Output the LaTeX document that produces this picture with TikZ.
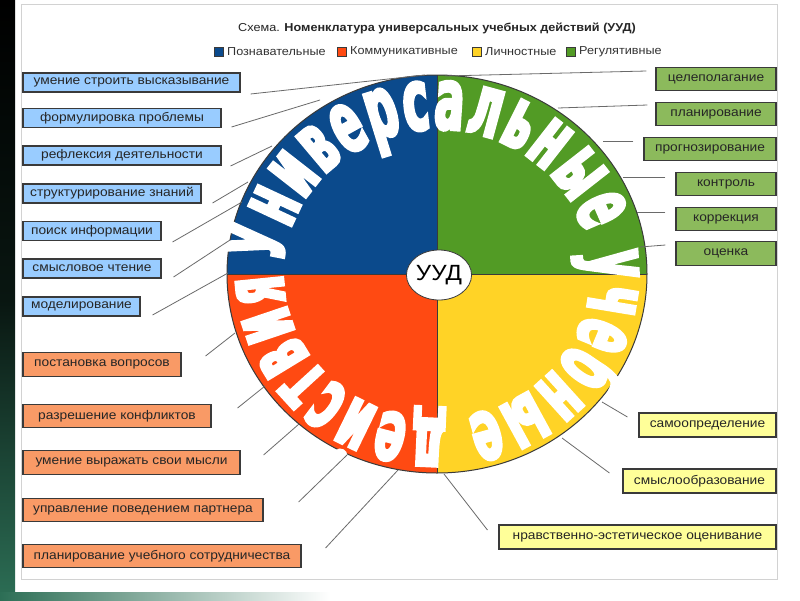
\documentclass[tikz,border=0pt]{standalone}
\usepackage{fontspec}
\setmainfont{Liberation Sans}[FakeStretch=1.1]
\newfontfamily\arcfont{DejaVu Sans}[FakeStretch=0.5, FakeBold=3.5]
\usetikzlibrary{decorations.text,shapes.geometric}
\definecolor{qblue}{HTML}{0B4A8C}
\definecolor{qgreen}{HTML}{529B25}
\definecolor{qred}{HTML}{FF4A12}
\definecolor{qyellow}{HTML}{FFD326}
\definecolor{bblue}{HTML}{99CCFF}
\definecolor{bgreen}{HTML}{8CBA5C}
\definecolor{borange}{HTML}{F99A66}
\definecolor{byellow}{HTML}{FFFF99}
\definecolor{edge}{HTML}{3A3A3A}
\definecolor{linec}{HTML}{6A6A6A}
\definecolor{darkgreenbg}{HTML}{2C6E55}
\tikzset{
  box/.style={draw=edge, line width=1.1pt, inner sep=0pt, text=black!85,
    font=\fontsize{12.5}{13}\selectfont},
  bluebox/.style={box, fill=bblue, minimum height=19pt},
  orangebox/.style={box, fill=borange, minimum height=23.5pt},
  greenbox/.style={box, fill=bgreen, minimum height=23.5pt},
  yellowbox/.style={box, fill=byellow, minimum height=24pt},
  conn/.style={draw=linec, line width=0.8pt},
  legsq/.style={draw=edge, line width=0.6pt, minimum size=9pt, inner sep=0pt},
  legtxt/.style={anchor=west, inner sep=0pt, font=\fontsize{11.5}{12}\selectfont, text=black!80}
}
\begin{document}
\begin{tikzpicture}[x=1pt,y=1pt]
\useasboundingbox (0,0) rectangle (800,-600);
% slide background
\fill[white] (0,0) rectangle (800,-600);
\shade[top color=black, bottom color=darkgreenbg, middle color=black!80!darkgreenbg] (0,0) rectangle (15,-600);
\shade[left color=darkgreenbg, right color=white] (0,-592) rectangle (330,-600);
\draw[gray!35, line width=0.8pt] (21,-4) rectangle (777,-579);

% title and legend
\node[font=\fontsize{11.5}{12}\selectfont, text=black!85] (title) at (437,-28)
  {Схема. \textbf{Номенклатура универсальных учебных действий (УУД)}};
\node[legsq, fill=qblue] (lq1) at (219,-52) {};
\node[legtxt] (lt1) at (227,-52) {Познавательные};
\node[legsq, fill=qred] (lq2) at (342,-52) {};
\node[legtxt] (lt2) at (350,-52) {Коммуникативные};
\node[legsq, fill=qyellow] (lq3) at (477,-52) {};
\node[legtxt] (lt3) at (485,-52) {Личностные};
\node[legsq, fill=qgreen] (lq4) at (571,-52) {};
\node[legtxt] (lt4) at (579,-52) {Регулятивные};

% circle quadrants
\coordinate (C) at (437,-274);
\fill[qblue] (C) -- ++(180:210 and 199) arc[start angle=180, end angle=90, x radius=210, y radius=199] -- cycle;
\fill[qgreen] (C) -- ++(90:210 and 199) arc[start angle=90, end angle=0, x radius=210, y radius=199] -- cycle;
\fill[qyellow] (C) -- ++(0:210 and 199) arc[start angle=0, end angle=-90, x radius=210, y radius=199] -- cycle;
\fill[qred] (C) -- ++(-90:210 and 199) arc[start angle=-90, end angle=-180, x radius=210, y radius=199] -- cycle;
\draw[edge, line width=0.5pt] (C) ++(0,199) -- ++(0,-398);
\draw[edge, line width=0.5pt] (C) ++(-210,0) -- ++(420,0);
\draw[edge, line width=1pt] (C) ellipse[x radius=210, y radius=199];

% curved title
\path (C) ++(176:154 and 145) coordinate (ts);
\path[decorate, decoration={text along path, text align=fit to path,
  text={|\arcfont\bfseries\fontsize{86}{86}\selectfont\color{white}|Универсальные учебные действия}}]
  (ts) arc[start angle=176, end angle=-180, x radius=154, y radius=145];

% centre
\node[draw=edge, line width=0.8pt, fill=white, ellipse, minimum width=58pt, minimum height=50pt,
  inner sep=0pt, font=\fontsize{22}{22}\selectfont] (uud) at (439,-275) {УУД};

% left (blue) boxes
\node[bluebox, minimum width=217pt] (b1) at (131.5,-82.5) {умение строить высказывание};
\node[bluebox, minimum width=198pt] (b2) at (122,-118) {формулировка проблемы};
\node[bluebox, minimum width=198pt] (b3) at (122,-155.5) {рефлексия деятельности};
\node[bluebox, minimum width=178pt] (b4) at (112,-193.5) {структурирование знаний};
\node[bluebox, minimum width=138pt] (b5) at (92,-231) {поиск информации};
\node[bluebox, minimum width=138pt] (b6) at (92,-268.5) {смысловое чтение};
\node[bluebox, minimum width=117pt] (b7) at (81.5,-306.5) {моделирование};
% orange boxes
\node[orangebox, minimum width=158pt] (o1) at (102,-364.5) {постановка вопросов};
\node[orangebox, minimum width=188pt] (o2) at (117,-416) {разрешение конфликтов};
\node[orangebox, minimum width=217pt] (o3) at (131.5,-462.5) {умение выражать свои мысли};
\node[orangebox, minimum width=240pt] (o4) at (143,-510) {управление поведением партнера};
\node[orangebox, minimum width=278pt] (o5) at (162,-556) {планирование учебного сотрудничества};
% green boxes
\node[greenbox, minimum width=120pt] (g1) at (716,-79) {целеполагание};
\node[greenbox, minimum width=120pt] (g2) at (716,-114) {планирование};
\node[greenbox, minimum width=132pt] (g3) at (710,-149) {прогнозирование};
\node[greenbox, minimum width=100pt] (g4) at (726,-184) {контроль};
\node[greenbox, minimum width=100pt] (g5) at (726,-219) {коррекция};
\node[greenbox, minimum width=100pt] (g6) at (726,-253.5) {оценка};
% yellow boxes
\node[yellowbox, minimum width=137pt] (y1) at (707.5,-425) {самоопределение};
\node[yellowbox, minimum width=153pt] (y2) at (699.5,-481) {смыслообразование};
\node[yellowbox, minimum width=277pt] (y3) at (637.5,-537) {нравственно-эстетическое оценивание};

% connector ends on the circle
\coordinate (c1) at (425,-75);
\coordinate (c2) at (320,-100);
\coordinate (c3) at (272,-146);
\coordinate (c4) at (248,-182);
\coordinate (c5) at (242,-202);
\coordinate (c6) at (230,-240);
\coordinate (c7) at (228,-273);
\coordinate (c8) at (235,-333);
\coordinate (c9) at (265,-386);
\coordinate (c10) at (299,-424);
\coordinate (c11) at (347,-455);
\coordinate (c12) at (398,-470);
\coordinate (c13) at (444,-474);
\coordinate (c14) at (562,-438);
\coordinate (c15) at (602,-402);
\coordinate (c16) at (640,-247);
\coordinate (c17) at (637,-212);
\coordinate (c18) at (623,-177);
\coordinate (c19) at (603,-141);
\coordinate (c20) at (558,-108);
\coordinate (c21) at (445,-76);

% connectors
\draw[conn] ([shift={(10,-11.5)}]b1.east) -- (c1);
\draw[conn] ([shift={(10,-9)}]b2.east) -- (c2);
\draw[conn] ([shift={(9,-10.5)}]b3.east) -- (c3);
\draw[conn] ([shift={(11,-9.5)}]b4.east) -- (c4);
\draw[conn] ([shift={(11,-11)}]b5.east) -- (c5);
\draw[conn] ([shift={(12,-8.5)}]b6.east) -- (c6);
\draw[conn] ([shift={(12,-8.5)}]b7.east) -- (c7);
\draw[conn] ([shift={(24,8.5)}]o1.east) -- (c8);
\draw[conn] ([shift={(26,8)}]o2.east) -- (c9);
\draw[conn] ([shift={(23,7.5)}]o3.east) -- (c10);
\draw[conn] ([shift={(35,8)}]o4.east) -- (c11);
\draw[conn] ([shift={(24,8)}]o5.east) -- (c12);
\draw[conn] ([shift={(-11,7)}]y3.west) -- (c13);
\draw[conn] ([shift={(-13,8)}]y2.west) -- (c14);
\draw[conn] ([shift={(-11,8)}]y1.west) -- (c15);
\draw[conn] ([shift={(-10,8.5)}]g6.west) -- (c16);
\draw[conn] ([shift={(-10,7)}]g5.west) -- (c17);
\draw[conn] ([shift={(-10,7)}]g4.west) -- (c18);
\draw[conn] ([shift={(-10,8)}]g3.west) -- (c19);
\draw[conn] ([shift={(-8,9)}]g2.west) -- (c20);
\draw[conn] ([shift={(-9,8)}]g1.west) -- (c21);
\end{tikzpicture}
\end{document}
